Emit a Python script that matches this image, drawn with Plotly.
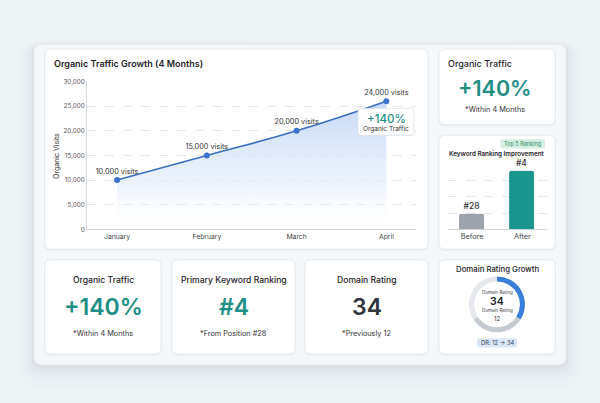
import plotly.graph_objects as go

W, H = 600, 403
FONT = "Inter"

# ---------------- data ----------------
months = ["January", "February", "March", "April"]
visits = [10000, 15000, 20000, 26000]
visit_labels = ["10,000 visits", "15,000 visits", "20,000 visits", "24,000 visits"]
y_tick_vals = [0, 5000, 10000, 15000, 20000, 25000, 30000]
y_tick_text = ["0", "5,000", "10,000", "15,000", "20,000", "25,000", "30,000"]

rank_cats = ["Before", "After"]
rank_heights = [9, 35]
rank_labels = ["#28", "#4"]

dr_segments = [34, 32, 34]
dr_colors = ["#3b7fdc", "#c5cad0", "#e5e8ec"]

kpi_titles = ["Organic Traffic", "Primary Keyword Ranking", "Domain Rating"]
kpi_values = ["+140%", "#4", "34"]
kpi_notes = ["*Within 4 Months", "*From Position #28", "*Previously 12"]
kpi_colors = ["#1f8f86", "#1f8f86", "#2f3640"]


def px(x):
    return x / W


def py(y):
    return 1 - y / H


def rrect(x0, y0, x1, y1, r):
    return (f"M {px(x0 + r)},{py(y0)} L {px(x1 - r)},{py(y0)} "
            f"Q {px(x1)},{py(y0)} {px(x1)},{py(y0 + r)} L {px(x1)},{py(y1 - r)} "
            f"Q {px(x1)},{py(y1)} {px(x1 - r)},{py(y1)} L {px(x0 + r)},{py(y1)} "
            f"Q {px(x0)},{py(y1)} {px(x0)},{py(y1 - r)} L {px(x0)},{py(y0 + r)} "
            f"Q {px(x0)},{py(y0)} {px(x0 + r)},{py(y0)} Z")


shapes = []
annotations = []


def add_rect(x0, y0, x1, y1, r, fill, line=None, lw=0, layer="below"):
    shapes.append(dict(type="path", xref="paper", yref="paper", path=rrect(x0, y0, x1, y1, r),
                       fillcolor=fill, line=dict(color=line or "rgba(0,0,0,0)", width=lw),
                       layer=layer))


def txt(x, y, s, size, color="#222", weight=400, xanchor="center", angle=0):
    annotations.append(dict(x=px(x), y=py(y), xref="paper", yref="paper", text=s, showarrow=False,
                            font=dict(family=FONT, size=size, color=color, weight=weight),
                            xanchor=xanchor, yanchor="middle", textangle=angle, borderpad=0))


# outer panel with soft shadow
for spread, dy, a in [(14, 10, 0.012), (9, 7, 0.018), (5, 4, 0.025), (2, 2, 0.035)]:
    add_rect(34 - spread, 41 - spread + dy, 566 + spread, 368 + spread + dy, 8 + spread,
             f"rgba(40,60,80,{a})")
add_rect(34, 41, 566, 368, 8, "#f5f8fa", "#e9eef2", 0.8)

cards = [(45, 46, 428, 250), (439, 46, 555, 123), (439, 134, 555, 250),
         (45, 261, 161, 357), (172, 261, 295, 357), (305, 261, 428, 357), (439, 261, 555, 357)]
for (x0, y0, x1, y1) in cards:
    add_rect(x0 - 1, y0 - 0.5, x1 + 1, y1 + 2, 7, "rgba(30,50,70,0.05)")
    add_rect(x0, y0, x1, y1, 6, "#ffffff", "#e4e8ec", 0.8)

# ---------------- main chart ----------------
fig = go.Figure()
fig.add_trace(go.Scatter(
    x=months, y=visits, mode="lines+markers+text", text=visit_labels,
    textposition="top center", textfont=dict(family=FONT, size=7.3, color="#333"),
    line=dict(color="#3a6fc2", width=1.6, shape="spline", smoothing=1.3),
    marker=dict(size=6, color="#3b72d0"),
    fill="tozeroy",
    fillgradient=dict(type="vertical", start=0, stop=26000,
                      colorscale=[[0, "rgba(255,255,255,0.0)"], [0.35, "rgba(225,236,251,0.6)"],
                                  [1, "rgba(192,213,246,0.9)"]]),
    xaxis="x", yaxis="y", cliponaxis=False, hoverinfo="skip", showlegend=False))

# ---------------- ranking bars ----------------
fig.add_trace(go.Bar(
    x=rank_cats, y=rank_heights, text=rank_labels, textposition="outside",
    textfont=dict(family=FONT, size=8.5, color="#333", weight=500),
    marker=dict(color=["#9ca3ad", "#1b968f"], cornerradius=2,
                line=dict(color=["#8f96a0", "#178a83"], width=0.8)),
    width=0.48, cliponaxis=False, xaxis="x2", yaxis="y2", hoverinfo="skip", showlegend=False))

# ---------------- domain rating donut ----------------
cx, cy, R = 497, 306.5, 28.5
fig.add_trace(go.Pie(
    values=dr_segments, marker=dict(colors=dr_colors, line=dict(width=0)), hole=0.82,
    sort=False, direction="clockwise", rotation=0, textinfo="none", hoverinfo="skip",
    showlegend=False,
    domain=dict(x=[px(cx - R), px(cx + R)], y=[py(cy + R), py(cy - R)])))

# chart texts
txt(53, 61, "Organic Traffic Growth (4 Months)", 9, "#1f2328", 600, "left")
txt(57, 155, "Organic Visits", 7, "#333", 400, "center", -90)

# callout box
add_rect(358, 107, 414, 134.5, 3, "rgba(30,50,70,0.06)", layer="above")
add_rect(358, 106.5, 414, 134, 3, "#ffffff", "#dde2e7", 0.8, layer="above")
txt(386, 117, "+140%", 11.5, "#1f8f86", 500)
txt(386, 128, "Organic Traffic", 6.5, "#333")

# top-right KPI card
txt(447, 61, "Organic Traffic", 9, "#1f2328", 500, "left")
txt(495, 86, "+140%", 21.5, "#1f8f86", 600)
txt(495, 107.5, "*Within 4 Months", 7.3, "#333")

# keyword card
add_rect(500.5, 138, 545, 147.5, 2, "#d5f0e3", layer="above")
txt(522.7, 142.8, "Top 5 Ranking", 5.5, "#2f8a62")
txt(497, 153, "Keyword Ranking Improvement", 6.3, "#1f2328", 600)

# bottom KPI cards
for (x0, y0, x1, y1), t, v, n, c in zip(cards[3:6], kpi_titles, kpi_values, kpi_notes, kpi_colors):
    xc = (x0 + x1) / 2
    txt(xc, 282, t, 8.6, "#1f2328", 500)
    txt(xc, 309, v, 23, c, 600)
    txt(xc, 336, n, 7.3, "#333")

# domain rating card
txt(497, 270, "Domain Rating Growth", 7.8, "#1f2328", 500)
txt(497, 294.3, "Domain Rating", 4.5, "#444")
txt(497, 303.5, "34", 10.5, "#1f2328", 600)
txt(497, 313, "Domain Rating", 4.5, "#444")
txt(497, 320.5, "12", 6.2, "#333")
add_rect(477, 341, 517, 350.5, 2, "#dce8f6", layer="above")
txt(497, 345.8, "DR: 12 → 34", 5.8, "#2c3e55")

fig.update_layout(
    width=W, height=H, margin=dict(l=0, r=0, t=0, b=0),
    paper_bgcolor="#eef3f6", plot_bgcolor="rgba(0,0,0,0)",
    font=dict(family=FONT), showlegend=False, bargap=0,
    shapes=shapes, annotations=annotations,
    xaxis=dict(domain=[px(87), px(416)], type="category", range=[-0.335, 3.33], anchor="y",
               showline=True, linecolor="#cfd5db", linewidth=1, showgrid=False, ticks="",
               tickfont=dict(family=FONT, size=6.8, color="#444"), fixedrange=True),
    yaxis=dict(domain=[py(230), py(79)], range=[0, 30000], anchor="x",
               tickvals=y_tick_vals, ticktext=y_tick_text,
               tickfont=dict(family=FONT, size=6.3, color="#555"),
               showline=True, linecolor="#d9dee3", linewidth=1, ticks="",
               showgrid=True, gridcolor="#e3e7eb", griddash="dash", gridwidth=0.8,
               zeroline=False, fixedrange=True),
    xaxis2=dict(domain=[px(448), px(546.5)], type="category", range=[-0.48, 1.48], anchor="y2",
                showline=True, linecolor="#cfd5db", linewidth=1, showgrid=False, ticks="",
                tickfont=dict(family=FONT, size=7.3, color="#444"), fixedrange=True),
    yaxis2=dict(domain=[py(230), py(163)], range=[0, 40], dtick=10, anchor="x2",
                showticklabels=False, showline=False, ticks="",
                showgrid=True, gridcolor="#e3e7eb", griddash="dash", gridwidth=0.8,
                zeroline=False, fixedrange=True),
)

fig.write_html("out.html")
